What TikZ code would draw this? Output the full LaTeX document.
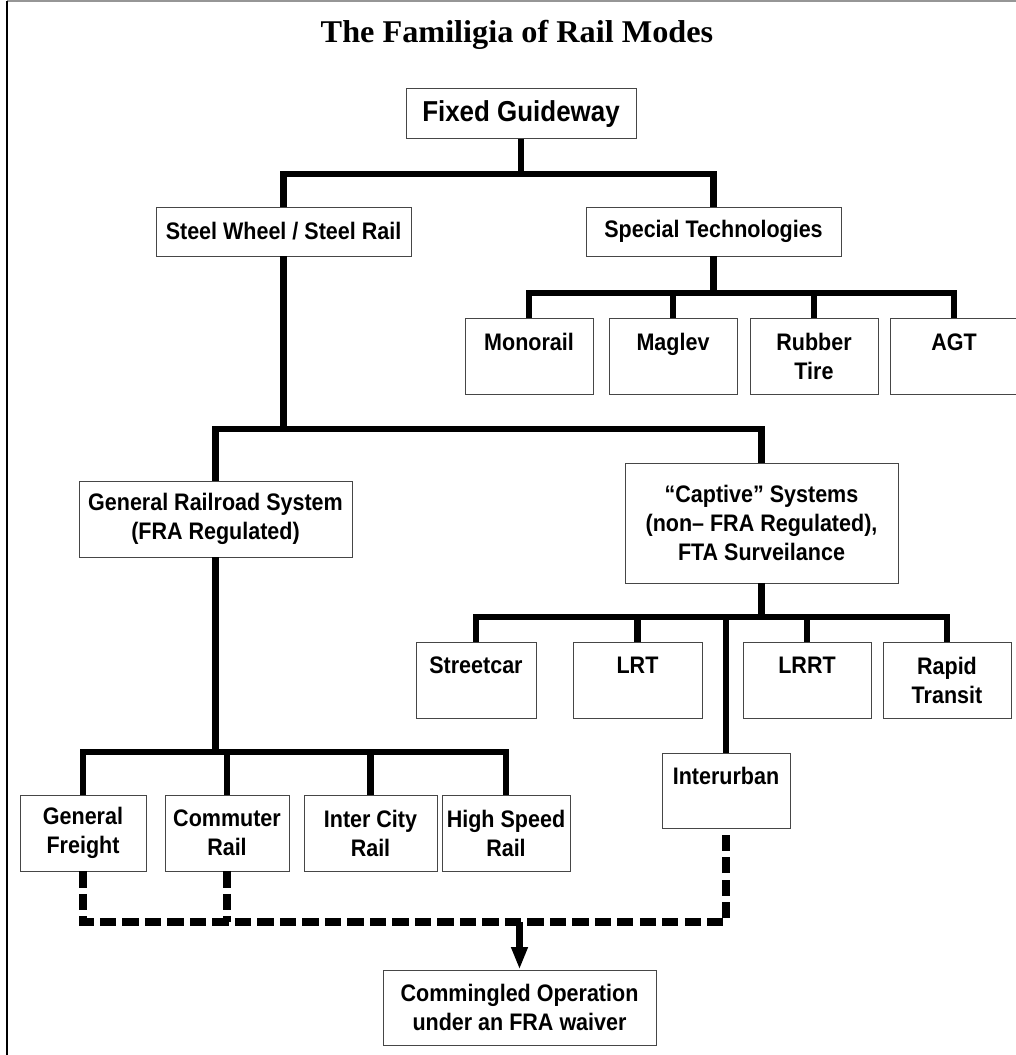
\documentclass[tikz,border=0pt]{standalone}
\usepackage{fontspec}
\usepackage{tikz}
\usetikzlibrary{arrows.meta}
\newfontfamily\boxfont[FakeStretch=0.9]{Liberation Sans}
\newfontfamily\titlefont[FakeStretch=1.02]{Liberation Serif}
\definecolor{railInk}{RGB}{0,0,0}
\definecolor{railRule}{RGB}{70,70,70}
\definecolor{railFrame}{RGB}{150,150,150}
\tikzset{
  rtitle/.style={font=\titlefont\bfseries\fontsize{22.5}{26}\selectfont,
    text=railInk, inner sep=0pt},
  rbox/.style={draw=railRule, line width=.7pt, fill=white, align=center,
    inner sep=0pt, text=railInk,
    font=\boxfont\bfseries\fontsize{17}{20.6}\selectfont},
  trunk/.style={draw=railInk, line width=4.3pt},
  waiverline/.style={draw=railInk, line width=5pt,
    dash pattern=on 11.5pt off 4.5pt},
  toward/.style={-{Triangle[length=16pt,width=11pt]}, draw=railInk,
    line width=5pt}
}

\begin{document}
\begin{tikzpicture}[
  mode/.style={rbox, minimum width=3.2cm, minimum height=1.9cm},
  frame/.style={draw=railFrame, line width=1.2pt}
]
\path[use as bounding box] (0,0) rectangle (25.4,26.375);
\draw[frame] (0.175,26.35) -- (25.4,26.35);
\draw[frame, draw=railInk] (0.175,0) -- (0.175,26.35);

\node[rtitle, anchor=base] (title) at (12.925,25.3) {The Familigia of Rail Modes};

% top levels
\node[rbox, minimum width=5.75cm, minimum height=1.25cm,
  font=\boxfont\bfseries\fontsize{20.5}{24}\selectfont] (fg) at (13.025,23.525) {Fixed Guideway};
\node[rbox, minimum width=6.375cm, minimum height=1.225cm] (sw) at (7.0875,20.5875) {Steel Wheel / Steel Rail};
\node[rbox, minimum width=6.375cm, minimum height=1.225cm] (st) at (17.8375,20.5875) {Special Technologies};

\node[mode] (mono) at (13.225,17.4625) {Monorail\\~};
\node[mode] (mag) at (16.825,17.4625) {Maglev\\~};
\node[mode] (rub) at (20.35,17.4625) {Rubber\\Tire};
\node[mode] (agt) at (23.85,17.4625) {AGT\\~};

\node[rbox, minimum width=6.825cm, minimum height=1.9cm] (gr) at (5.3875,13.4)
  {General Railroad System\\(FRA Regulated)};
\node[rbox, minimum width=6.825cm, minimum height=3.0cm] (cap) at (19.0375,13.3)
  {“Captive” Systems\\(non– FRA Regulated),\\FTA Surveilance};

% captive modes
\node[mode, minimum width=3.0cm] (street) at (11.9,9.375) {Streetcar\\~};
\node[mode, minimum width=3.225cm] (lrt) at (15.9375,9.375) {LRT\\~};
\node[mode] (lrrt) at (20.175,9.375) {LRRT\\~};
\node[mode] (rapid) at (23.675,9.375) {Rapid\\Transit};
\node[mode, minimum height=1.875cm] (iu) at (18.15,6.6125) {Interurban\\~};

% railroad modes
\node[mode, minimum width=3.15cm] (gf) at (2.075,5.55) {General\\Freight};
\node[mode, minimum width=3.1cm] (cr) at (5.675,5.55) {Commuter\\Rail};
\node[mode, minimum width=3.325cm] (ic) at (9.2625,5.55) {Inter City\\Rail};
\node[mode] (hs) at (12.65,5.55) {High Speed\\Rail};

\node[rbox, minimum width=6.825cm, minimum height=1.875cm] (cm) at (12.9875,1.1875)
  {Commingled Operation\\under an FRA waiver};

\coordinate (j1) at (13.025,22.025);
\coordinate (j2) at (17.8375,19.05);
\coordinate (j3) at (7.0875,15.65);
\coordinate (j4) at (19.0375,10.95);
\coordinate (j5) at (5.3875,7.575);
\coordinate (dj) at (18.15,3.325);

\draw[trunk] (fg.south) -- (j1);
\draw[trunk] (sw.north) |- (j1) -| (st.north);

\draw[trunk] (st.south) -- (j2);
\draw[trunk] (mono.north) |- (j2) -| (agt.north);
\draw[trunk] (mag.north) -- (mag.north |- j2);
\draw[trunk] (rub.north) -- (rub.north |- j2);

\draw[trunk] (sw.south) -- (j3);
\draw[trunk] (gr.north) |- (j3) -| (cap.north);

\draw[trunk] (cap.south) -- (j4);
\draw[trunk] (street.north) |- (j4) -| (rapid.north);
\draw[trunk] (lrt.north) -- (lrt.north |- j4);
\draw[trunk] (lrrt.north) -- (lrrt.north |- j4);
\draw[trunk] (iu.north) -- (iu.north |- j4);

\draw[trunk] (gr.south) -- (j5);
\draw[trunk] (gf.north) |- (j5) -| (hs.north);
\draw[trunk] (cr.north) -- (cr.north |- j5);
\draw[trunk] (ic.north) -- (ic.north |- j5);

% waiver links
\draw[waiverline] (gf.south) |- (dj) -- (iu.south);
\draw[waiverline] (cr.south) -- (cr.south |- dj);
\draw[toward] (cm.north |- dj) -- (cm.north);
\end{tikzpicture}
\end{document}
